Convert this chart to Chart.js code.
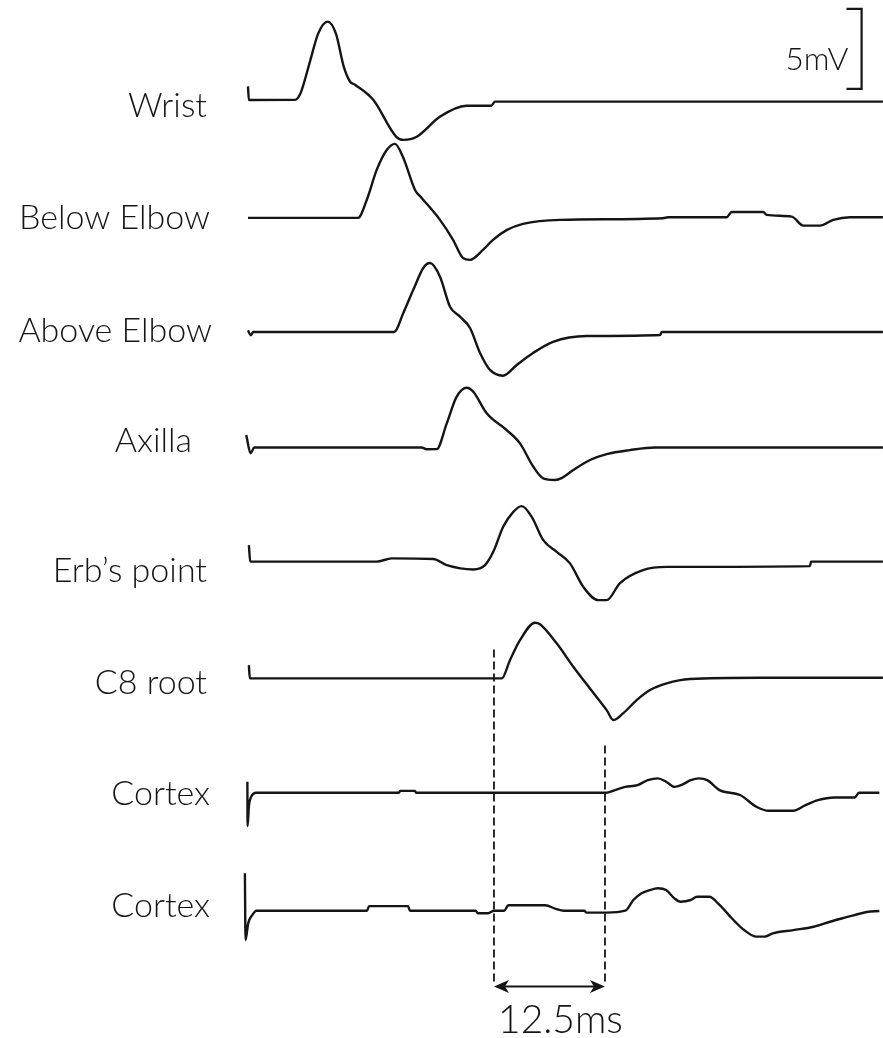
<!DOCTYPE html>
<html>
<head>
<meta charset="utf-8">
<script src="https://cdn.jsdelivr.net/npm/chart.js@4"></script>
<style>
  html, body { margin: 0; padding: 0; background: #fff; }
  #wrap { width: 883px; height: 1038px; position: relative; }
</style>
</head>
<body>
<div id="wrap"><canvas id="chart"></canvas></div>
<script>
// Recording sites, top to bottom
const siteNames = ["Wrist", "Below Elbow", "Above Elbow", "Axilla", "Erb\u2019s point", "C8 root", "Cortex", "Cortex"];

// Baseline of each trace (mV, traces are stacked downward)
const offsets = [-6.3, -13.62, -20.75, -27.97, -35.1, -42.4, -49.55, -56.92];

// Each trace: [time ms, amplitude mV]
const wrist = [
  [0, 0.9], [0.1, 0.05], [5.3, 0.06], [5.9, 0.45], [7.0, 2.5], [7.9, 4.2], [8.97, 4.95],
  [9.9, 4.2], [10.8, 2.1], [11.5, 1.19], [12.05, 1.0], [14.1, 0.06], [16.7, -2.25],
  [17.5, -2.44], [19.0, -2.25], [21.6, -1.0], [24.6, -0.31], [27.4, -0.31], [27.8, -0.05], [71.5, -0.05]
];
const belowElbow = [
  [0, 0], [12.39, 0], [13.37, 1.12], [14.49, 3.0], [15.62, 4.25], [16.55, 4.63], [17.45, 3.81],
  [18.81, 1.75], [19.56, 1.25], [21.62, -0.12], [23.09, -1.37], [24.2, -2.5], [25.0, -2.62],
  [26.46, -2.0], [27.59, -1.37], [29.17, -0.75], [30.97, -0.37], [35.14, -0.12], [46.73, -0.02],
  [47.3, 0.04], [53.9, 0.04], [54.47, 0.37], [58.03, 0.37], [58.41, 0.19], [61.23, 0.08],
  [62.54, -0.48], [64.41, -0.48], [65.91, -0.12], [67.79, 0.04], [71.5, 0.04]
];
const aboveElbow = [
  [0, 0.1], [0.3, -0.2], [0.6, 0], [16.44, 0], [17.49, 1.19], [18.6, 2.62], [19.74, 4.0],
  [20.5, 4.31], [21.62, 3.46], [22.75, 1.58], [23.87, 0.96], [25.0, 0.25], [26.13, -1.31],
  [27.25, -2.37], [28.72, -2.73], [30.26, -2.06], [32.1, -1.31], [34.35, -0.61], [38.14, -0.25],
  [46.4, -0.19], [46.6, 0], [71.5, 0]
];
const axilla = [
  [-0.2, 0.78], [0.3, -0.36], [0.7, 0], [19.56, 0], [20.12, -0.11], [21.25, -0.1], [22.38, 1.51],
  [23.5, 3.18], [24.63, 3.74], [25.37, 3.49], [26.88, 2.14], [29.13, 1.09], [30.63, 0.26],
  [32.13, -1.2], [33.25, -1.93], [34.57, -2.03], [35.36, -1.9], [36.63, -1.41], [38.51, -0.78],
  [40.39, -0.41], [43.0, -0.16], [45.83, 0], [71.5, 0]
];
const erbsPoint = [
  [0.1, 1.03], [0.25, 0], [14.49, 0], [16.18, 0.2], [20.87, 0.16], [22.38, -0.22], [25.37, -0.49],
  [26.69, -0.22], [27.62, 0.61], [28.75, 2.19], [29.88, 3.11], [30.82, 3.47], [31.95, 2.8],
  [33.25, 1.34], [34.76, 0.61], [36.26, -0.11], [37.76, -1.58], [39.45, -2.41], [40.39, -2.41],
  [41.89, -1.34], [44.48, -0.53], [47.18, -0.33], [63.29, -0.28], [63.4, 0], [71.5, 0]
];
const c8Root = [
  [0.1, 0.83], [0.2, 0], [28.57, 0], [29.5, 1.14], [30.63, 2.39], [32.32, 3.48], [32.88, 3.39],
  [34.76, 2.19], [36.63, 0.73], [38.51, -0.63], [40.39, -1.98], [41.14, -2.6], [42.23, -2.19],
  [43.77, -1.36], [45.27, -0.73], [47.15, -0.31], [49.77, -0.04], [57.66, 0.04], [71.5, 0.04]
];
const cortex1 = [
  [-0.07, 0.69], [-0.05, -2.08], [0.11, -0.77], [0.34, -0.27], [0.95, 0], [17.0, 0], [17.12, 0.12],
  [18.81, 0.12], [18.92, 0], [40.32, 0], [41.33, 0.17], [42.48, 0.37], [43.86, 0.48], [45.02, 0.79],
  [46.17, 0.9], [47.09, 0.69], [48.02, 0.37], [48.94, 0.52], [49.86, 0.79], [50.79, 0.9],
  [51.71, 0.79], [53.1, 0.17], [55.41, -0.14], [57.25, -0.87], [58.64, -1.12], [61.41, -1.12],
  [62.79, -0.77], [64.18, -0.46], [66.02, -0.29], [68.33, -0.29], [68.8, 0], [71.1, 0]
];
const cortex2 = [
  [-0.35, 2.34], [-0.28, -1.83], [0.02, -0.79], [0.48, -0.27], [0.95, 0], [13.4, 0], [13.64, 0.29],
  [18.02, 0.29], [18.24, 0], [25.64, 0], [25.87, -0.16], [27.03, -0.16], [27.7, 0], [28.86, 0],
  [29.32, 0.34], [33.48, 0.34], [34.64, 0.12], [35.56, 0], [37.87, 0], [38.1, -0.12], [40.32, -0.12],
  [42.48, 0], [43.4, 0.67], [44.32, 1.09], [45.25, 1.29], [46.17, 1.4], [47.09, 1.29], [48.02, 0.77],
  [48.72, 0.56], [49.86, 0.67], [50.56, 0.87], [51.95, 0.87], [53.1, 0.36], [54.48, -0.47],
  [55.87, -1.21], [57.25, -1.62], [58.18, -1.62], [59.1, -1.41], [61.41, -1.21], [63.72, -1.0],
  [65.56, -0.69], [66.95, -0.47], [68.33, -0.27], [69.7, -0.08], [71.1, -0.02]
];
const traces = [wrist, belowElbow, aboveElbow, axilla, erbsPoint, c8Root, cortex1, cortex2];

// Latency markers (ms) and calibration
const latencyStart = 27.7;
const latencyEnd = 40.2;
const latencyText = "12.5ms";
const scaleBarMv = 5;
const scaleBarText = "5mV";

// layout / style
const timeMin = -27.93, timeMax = 71.51;
const voltMin = -64.875, voltMax = 0;
const labelRight = [207, 210, 212, 192, 207, 207, 210, 210];
const labelDrop = [15.7, 11.3, 9.7, 4.2, 20.2, 15.7, 12.3, 6.0];
const ink = "#151515";
const textFont = "300 34px Lato, 'Open Sans', sans-serif";

const datasets = traces.map((tr, i) => ({
  label: siteNames[i],
  data: tr.map(p => ({ x: p[0], y: p[1] + offsets[i] })),
  borderColor: ink,
  borderWidth: 2.4,
  pointRadius: 0,
  cubicInterpolationMode: "monotone",
  fill: false,
}));

// dashed latency lines
datasets.push({
  data: [{ x: latencyStart, y: -40.6 }, { x: latencyStart, y: -61.4 }],
  borderColor: ink, borderWidth: 1.8, borderDash: [8, 4], pointRadius: 0,
});
datasets.push({
  data: [{ x: latencyEnd, y: -46.6 }, { x: latencyEnd, y: -61.4 }],
  borderColor: ink, borderWidth: 1.8, borderDash: [8, 4], pointRadius: 0,
});
// 5 mV calibration bracket
const barX = 69.1, barTop = -0.55;
datasets.push({
  data: [
    { x: barX - 1.7, y: barTop }, { x: barX, y: barTop },
    { x: barX, y: barTop - scaleBarMv }, { x: barX - 1.7, y: barTop - scaleBarMv }
  ],
  borderColor: ink, borderWidth: 2.2, pointRadius: 0, tension: 0,
});

const annotations = {
  id: "annotations",
  afterDatasetsDraw(chart) {
    const ctx = chart.ctx;
    const xs = chart.scales.x, ys = chart.scales.y;
    ctx.save();
    ctx.fillStyle = ink;
    ctx.font = textFont;
    ctx.textAlign = "right";
    ctx.textBaseline = "alphabetic";
    siteNames.forEach((name, i) => {
      ctx.fillText(name, labelRight[i], ys.getPixelForValue(offsets[i]) + labelDrop[i]);
    });

    // scale bar text
    ctx.font = "300 32px Lato, 'Open Sans', sans-serif";
    ctx.fillText(scaleBarText, xs.getPixelForValue(barX) - 13, ys.getPixelForValue(barTop) + 61);

    // double arrow
    const ay = ys.getPixelForValue(-61.65);
    const x1 = xs.getPixelForValue(latencyStart), x2 = xs.getPixelForValue(latencyEnd);
    ctx.strokeStyle = ink;
    ctx.lineWidth = 2;
    ctx.beginPath();
    ctx.moveTo(x1 + 6, ay);
    ctx.lineTo(x2 - 6, ay);
    ctx.stroke();
    [[x1, 1], [x2, -1]].forEach(([x, d]) => {
      ctx.beginPath();
      ctx.moveTo(x, ay);
      ctx.lineTo(x + d * 15, ay - 6.5);
      ctx.lineTo(x + d * 11, ay);
      ctx.lineTo(x + d * 15, ay + 6.5);
      ctx.closePath();
      ctx.fill();
    });

    ctx.font = "300 39px Lato, 'Open Sans', sans-serif";
    ctx.textAlign = "center";
    ctx.fillText(latencyText, (x1 + x2) / 2 + 11, ay + 47);
    ctx.restore();
  }
};

new Chart(document.getElementById("chart"), {
  type: "line",
  data: { datasets },
  options: {
    responsive: true,
    maintainAspectRatio: false,
    animation: false,
    layout: { padding: 0 },
    scales: {
      x: { type: "linear", min: timeMin, max: timeMax, display: false },
      y: { type: "linear", min: voltMin, max: voltMax, display: false },
    },
    plugins: { legend: { display: false }, tooltip: { enabled: false } },
  },
  plugins: [annotations],
});
</script>
</body>
</html>
